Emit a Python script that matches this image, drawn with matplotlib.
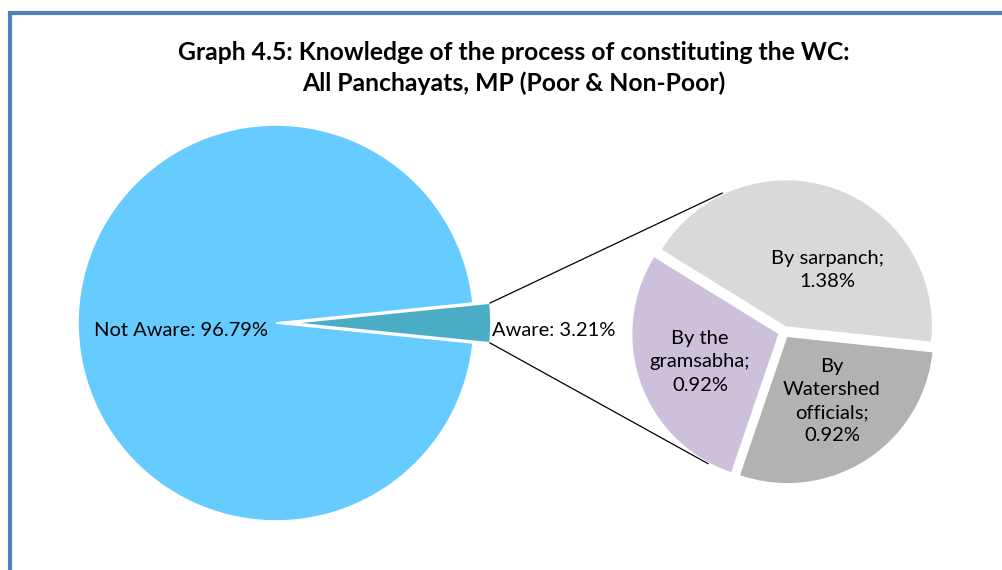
import numpy as np
import matplotlib
matplotlib.use('Agg')
import matplotlib.pyplot as plt
from matplotlib.patches import Rectangle

plt.rcParams['font.family'] = ['Lato', 'DejaVu Sans']

# main pie
main_labels = ['Aware', 'Not Aware']
main_values = [3.21, 96.79]
main_colors = ['#4BACC6', '#66CCFF']

# breakdown of "Aware"
sub_labels = ['By sarpanch', 'By the\ngramsabha', 'By\nWatershed\nofficials']
sub_values = [1.38, 0.92, 0.92]
sub_colors = ['#D9D9D9', '#CCC0DA', '#B2B2B2']

title = 'Graph 4.5: Knowledge of the process of constituting the WC:\nAll Panchayats, MP (Poor & Non-Poor)'

W, H = 1003, 570
fig = plt.figure(figsize=(W / 100, H / 100), dpi=100)
ax = fig.add_axes([0, 0, 1, 1])

# geometry in pixel units
c1 = (276, H - 323)
r1 = 198
ex1 = 17
c2 = (784, H - 332)
r2 = 146
ex2 = 6

half = main_values[0] / sum(main_values) * 360 / 2
ax.pie(main_values, colors=main_colors, center=c1, radius=r1,
       startangle=-half, explode=[ex1, 0], frame=True,
       wedgeprops=dict(edgecolor='white', linewidth=1.2))

ax.pie(sub_values, colors=sub_colors, center=c2, radius=r2,
       startangle=-6, explode=[ex2] * 3, frame=True,
       wedgeprops=dict(edgecolor='none'))
ax.set_xlim(0, W)
ax.set_ylim(0, H)
ax.set_aspect('equal')
ax.axis('off')

# connector lines from the aware wedge to the second pie
ang = np.radians(half)
x0 = c1[0] + ex1 + r1 * np.cos(ang)
for sgn, a in [(1, 114), (-1, 240)]:
    y0 = c1[1] + sgn * r1 * np.sin(ang)
    xe = c2[0] + (r2 + ex2) * np.cos(np.radians(a))
    ye = c2[1] + (r2 + ex2) * np.sin(np.radians(a))
    ax.plot([x0, xe], [y0, ye], color='black', lw=0.9)

lab_fs = 14.5
ax.text(181, H - 330, 'Not Aware: %.2f%%' % main_values[1], ha='center', va='center', fontsize=lab_fs)
ax.text(492, H - 331, 'Aware: %.2f%%' % main_values[0], ha='left', va='center', fontsize=lab_fs)

sub_pos = [(827, H - 270), (700, H - 362), (832, H - 401)]
for lab, v, (px, py) in zip(sub_labels, sub_values, sub_pos):
    ax.text(px, py, '%s;\n%.2f%%' % (lab, v), ha='center', va='center',
            fontsize=lab_fs, linespacing=1.45)

fig.text(0.512, 1 - 68 / H, title, ha='center', va='center', fontsize=17.8,
         fontweight='bold', linespacing=1.38)

fig.patches.append(Rectangle((10 / W, -0.1), 1.2, 1.1 - 13 / H, transform=fig.transFigure,
                             fill=False, edgecolor='#4F81BD', linewidth=3))

fig.savefig('out.png', dpi=100)
